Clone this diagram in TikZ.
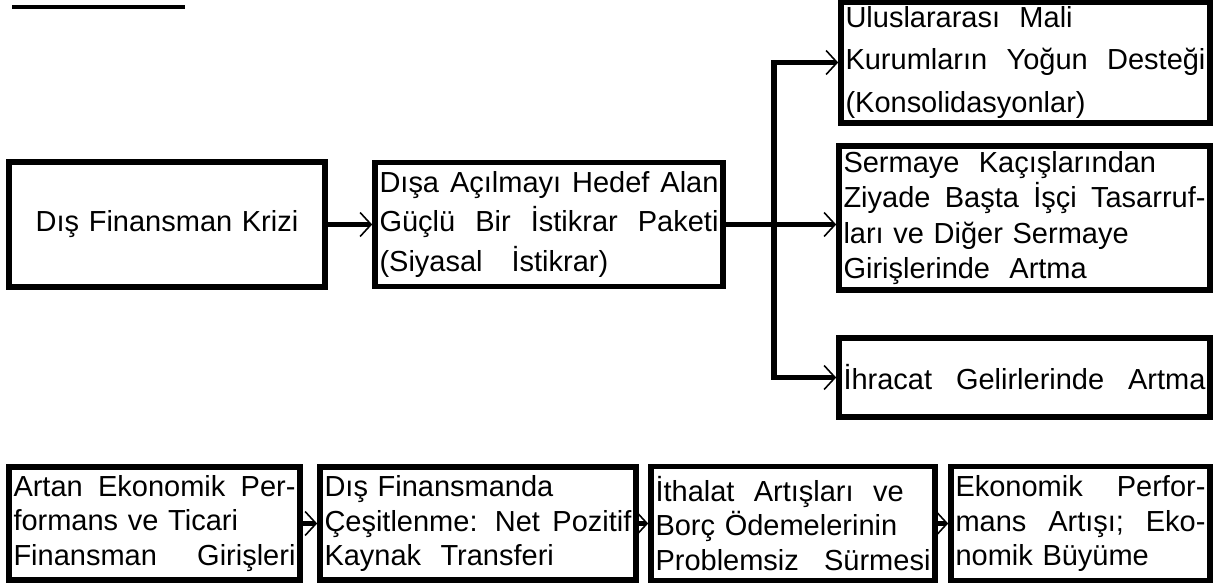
\documentclass[tikz,border=0pt]{standalone}
\usepackage{fontspec}
\setmainfont{Liberation Sans}
\usetikzlibrary{arrows.meta}

\newcommand{\boxfont}[1]{\fontsize{16.5}{#1}\selectfont}

\begin{document}
\begin{tikzpicture}[every node/.style={
    rectangle,
    draw,
    line width=3.2pt,
    inner xsep=0.09cm,
    inner ysep=0pt,
    align=left,
    font=\boxfont{22.5}
}, arr/.style={-{Straight Barb[length=0.22cm, width=0.48cm, line width=0.9pt]}, line width=3.2pt}]
    \useasboundingbox (0, 0) rectangle (24.34, -11.72);

    \draw[line width=2.8pt] (0.24, -0.14) -- (3.7, -0.14);



    \node (dis_finansman_krizi) [text width=6.14cm, minimum height=2.5cm, align=center, shift={(3.34, -4.49)}]
    {
        Dış Finansman Krizi
    };
    \node (istikrar_paketi) [text width=6.78cm, minimum height=2.48cm, shift={(10.98, -4.49)}]
    {
        Dışa \hfill Açılmayı \hfill Hedef \hfill Alan\\
        Güçlü \hfill Bir \hfill İstikrar \hfill Paketi\\
        (Siyasal\hspace{1em}İstikrar)
    };



    \coordinate (fork) at (15.48, -4.49);



    \node (mali_kurumlar) [text width=7.2cm, minimum height=2.42cm, font=\boxfont{24}, shift={(20.51, -1.25)}]
    {
        Uluslararası \ Mali\\
        Kurumların \hfill Yoğun \hfill Desteği\\
        (Konsolidasyonlar)
    };
    \node (sermaye_girisleri) [text width=7.24cm, minimum height=2.88cm, font=\boxfont{20}, shift={(20.49, -4.36)}]
    {
        Sermaye \ Kaçışlarından\\
        Ziyade \hfill Başta \hfill İşçi \hfill Tasarruf-\\
        ları ve Diğer Sermaye\\
        Girişlerinde \ Artma
    };
    \node (ihracat_gelirleri) [text width=7.24cm, minimum height=1.58cm, shift={(20.49, -7.55)}]
    {
        İhracat \hfill Gelirlerinde \hfill Artma
    };



    \node (ekonomik_performans) [text width=5.64cm, minimum height=2.26cm, font=\boxfont{19.5}, shift={(3.09, -10.47)}]
    {
        Artan \hfill Ekonomik \hfill Per-\\
        formans ve Ticari\\
        Finansman \hfill Girişleri
    };
    \node (finansman_cesitlenme) [text width=6.14cm, minimum height=2.26cm, font=\boxfont{19.5}, shift={(9.56, -10.47)}]
    {
        Dış Finansmanda\\
        Çeşitlenme: \hfill Net \hfill Pozitif\\
        Kaynak \ Transferi
    };
    \node (ithalat_artislari) [text width=5.5cm, minimum height=2.28cm, font=\boxfont{19.5}, shift={(15.86, -10.47)}]
    {
        İthalat \ Artışları \ ve\\
        Borç Ödemelerinin\\
        Problemsiz \hfill Sürmesi
    };
    \node (ekonomik_buyume) [text width=5.0cm, minimum height=2.28cm, font=\boxfont{19.5}, shift={(21.61, -10.47)}]
    {
        Ekonomik \hfill Perfor-\\
        mans \hfill Artışı; \hfill Eko-\\
        nomik Büyüme
    };



    \draw[arr] (dis_finansman_krizi) to (istikrar_paketi);
    \draw[arr] (istikrar_paketi.east) to (istikrar_paketi.east -| sermaye_girisleri.west);
    \draw[arr] (fork) |- (mali_kurumlar);
    \draw[arr] (fork) |- (ihracat_gelirleri);
    \draw[arr] (ekonomik_performans) to (finansman_cesitlenme);
    \draw[arr] (finansman_cesitlenme) to (ithalat_artislari);
    \draw[arr] (ithalat_artislari) to (ekonomik_buyume);


\end{tikzpicture}
\end{document}
